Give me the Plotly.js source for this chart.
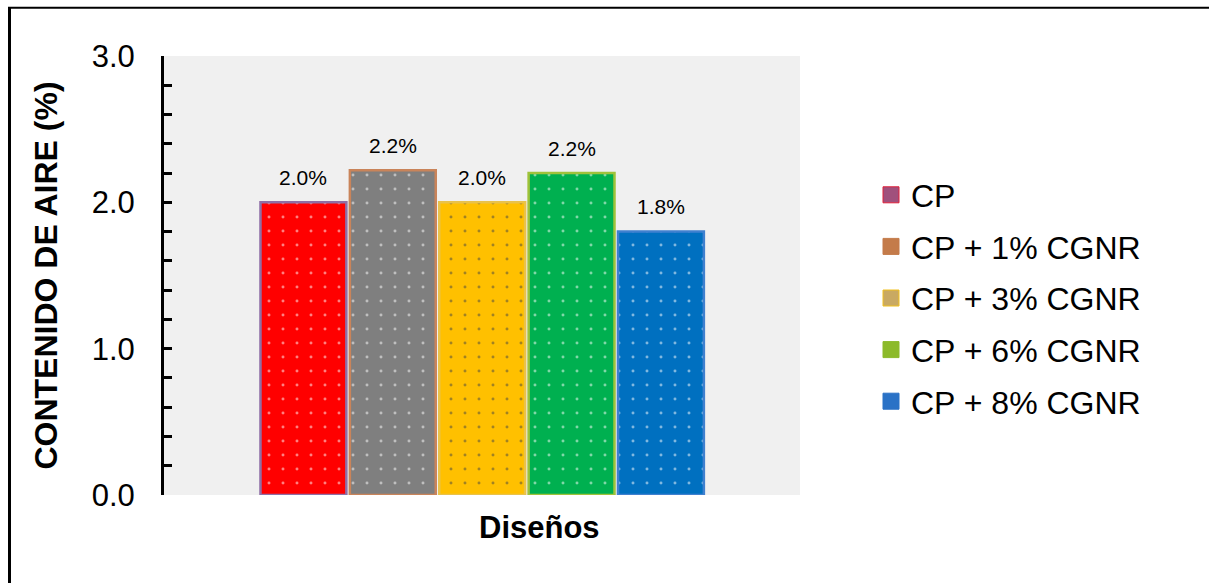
<!DOCTYPE html>
<html>
<head>
<meta charset="utf-8">
<script src="https://cdn.plot.ly/plotly-3.0.1.min.js"></script>
<style>html,body{margin:0;padding:0;background:#fff;}#chart{width:1209px;height:583px;}</style>
</head>
<body>
<div id="chart"></div>
<script>
// ---- data ----
const categories = ["CP", "CP + 1% CGNR", "CP + 3% CGNR", "CP + 6% CGNR", "CP + 8% CGNR"];
const airContent = [2.0, 2.22, 2.0, 2.2, 1.8];
const barColors = ["#FF0000", "#7F7F7F", "#FFC000", "#00B050", "#0070C0"];
const barEdgeColors = ["#8f6fa6", "#c9845a", "#e9c24a", "#9fc23a", "#3f80cf"];
const legendColors = ["#a0507c", "#c47b4a", "#c9a962", "#8cba2a", "#2a72c6"];
const legendBorders = ["#e0203a", "#c47b4a", "#f0c020", "#8cba2a", "#2a72c6"];
const yTicks = [0, 1, 2, 3];
const yTickText = ["0.0", "1.0", "2.0", "3.0"];

// ---- layout helpers ----
const W = 1209, H = 583;
const M = {l: 164, r: 409, t: 56, b: 88, pad: 0};
const pw = W - M.l - M.r, ph = H - M.t - M.b;
const px = x => (x - M.l) / pw;
const py = y => (H - M.b - y) / ph;
const FONT = "Liberation Sans, Arial, sans-serif";

const traces = [{
  type: "bar",
  x: categories,
  y: airContent,
  showlegend: false,
  hoverinfo: "x+y",
  marker: {
    color: barColors,
    line: {color: barEdgeColors, width: 2.5},
    pattern: {shape: ".", fgcolor: "#ffffff", bgcolor: barColors, size: 14, solidity: 0.035, fillmode: "overlay"}
  }
}];
categories.forEach((c, i) => {
  traces.push({
    type: "scatter", mode: "markers", name: c, legendgroup: "g" + i,
    x: [null], y: [null],
    marker: {symbol: "square", size: 16, color: legendColors[i], line: {color: legendBorders[i], width: 1}}
  });
});

const annotations = categories.map((c, i) => ({
  x: c, y: airContent[i], xref: "x", yref: "y",
  text: airContent[i].toFixed(1) + "%",
  showarrow: false, yanchor: "middle", yshift: 25,
  font: {family: FONT, size: 21, color: "#000"}
}));
annotations.push({
  xref: "paper", yref: "paper", x: px(539), y: py(527),
  xanchor: "center", yanchor: "middle", showarrow: false,
  text: "<b>Diseños</b>",
  font: {family: FONT, size: 31, color: "#000"}
});

const layout = {
  width: W, height: H,
  margin: M,
  paper_bgcolor: "#ffffff",
  plot_bgcolor: "#f0f0f0",
  barmode: "overlay",
  bargap: 0.039,
  showlegend: true,
  font: {family: FONT, color: "#000"},
  xaxis: {
    type: "category",
    range: [-1.56, 5.556],
    showticklabels: false, ticks: "", showline: false, showgrid: false, zeroline: false,
    fixedrange: true
  },
  yaxis: {
    range: [0, 3],
    tickvals: yTicks, ticktext: yTickText,
    ticks: "inside", ticklen: 8, tickwidth: 3, tickcolor: "#000",
    minor: {dtick: 0.2, ticks: "inside", ticklen: 8, tickwidth: 3, tickcolor: "#000", showgrid: false},
    showline: true, linewidth: 3, linecolor: "#000",
    showgrid: false, zeroline: false,
    ticklabelstandoff: 20,
    tickfont: {family: FONT, size: 31, color: "#000"},
    title: {text: "<b>CONTENIDO DE AIRE (%)</b>", standoff: 25,
            font: {family: FONT, size: 32, color: "#000"}},
    fixedrange: true
  },
  legend: {
    x: px(871), xanchor: "left",
    y: py(298), yanchor: "middle",
    bgcolor: "rgba(0,0,0,0)",
    font: {family: FONT, size: 32, color: "#000"},
    itemsizing: "trace",
    traceorder: "grouped",
    tracegroupgap: 7
  },
  annotations: annotations,
  shapes: [
    {type: "line", xref: "paper", yref: "paper", x0: px(9.5), x1: px(9.5), y0: py(7), y1: py(600), line: {color: "#000", width: 3}},
    {type: "line", xref: "paper", yref: "paper", x0: px(8), x1: px(1215), y0: py(7.7), y1: py(7.7), line: {color: "#000", width: 2}}
  ]
};

Plotly.newPlot("chart", traces, layout, {displayModeBar: false, staticPlot: true});
</script>
</body>
</html>
